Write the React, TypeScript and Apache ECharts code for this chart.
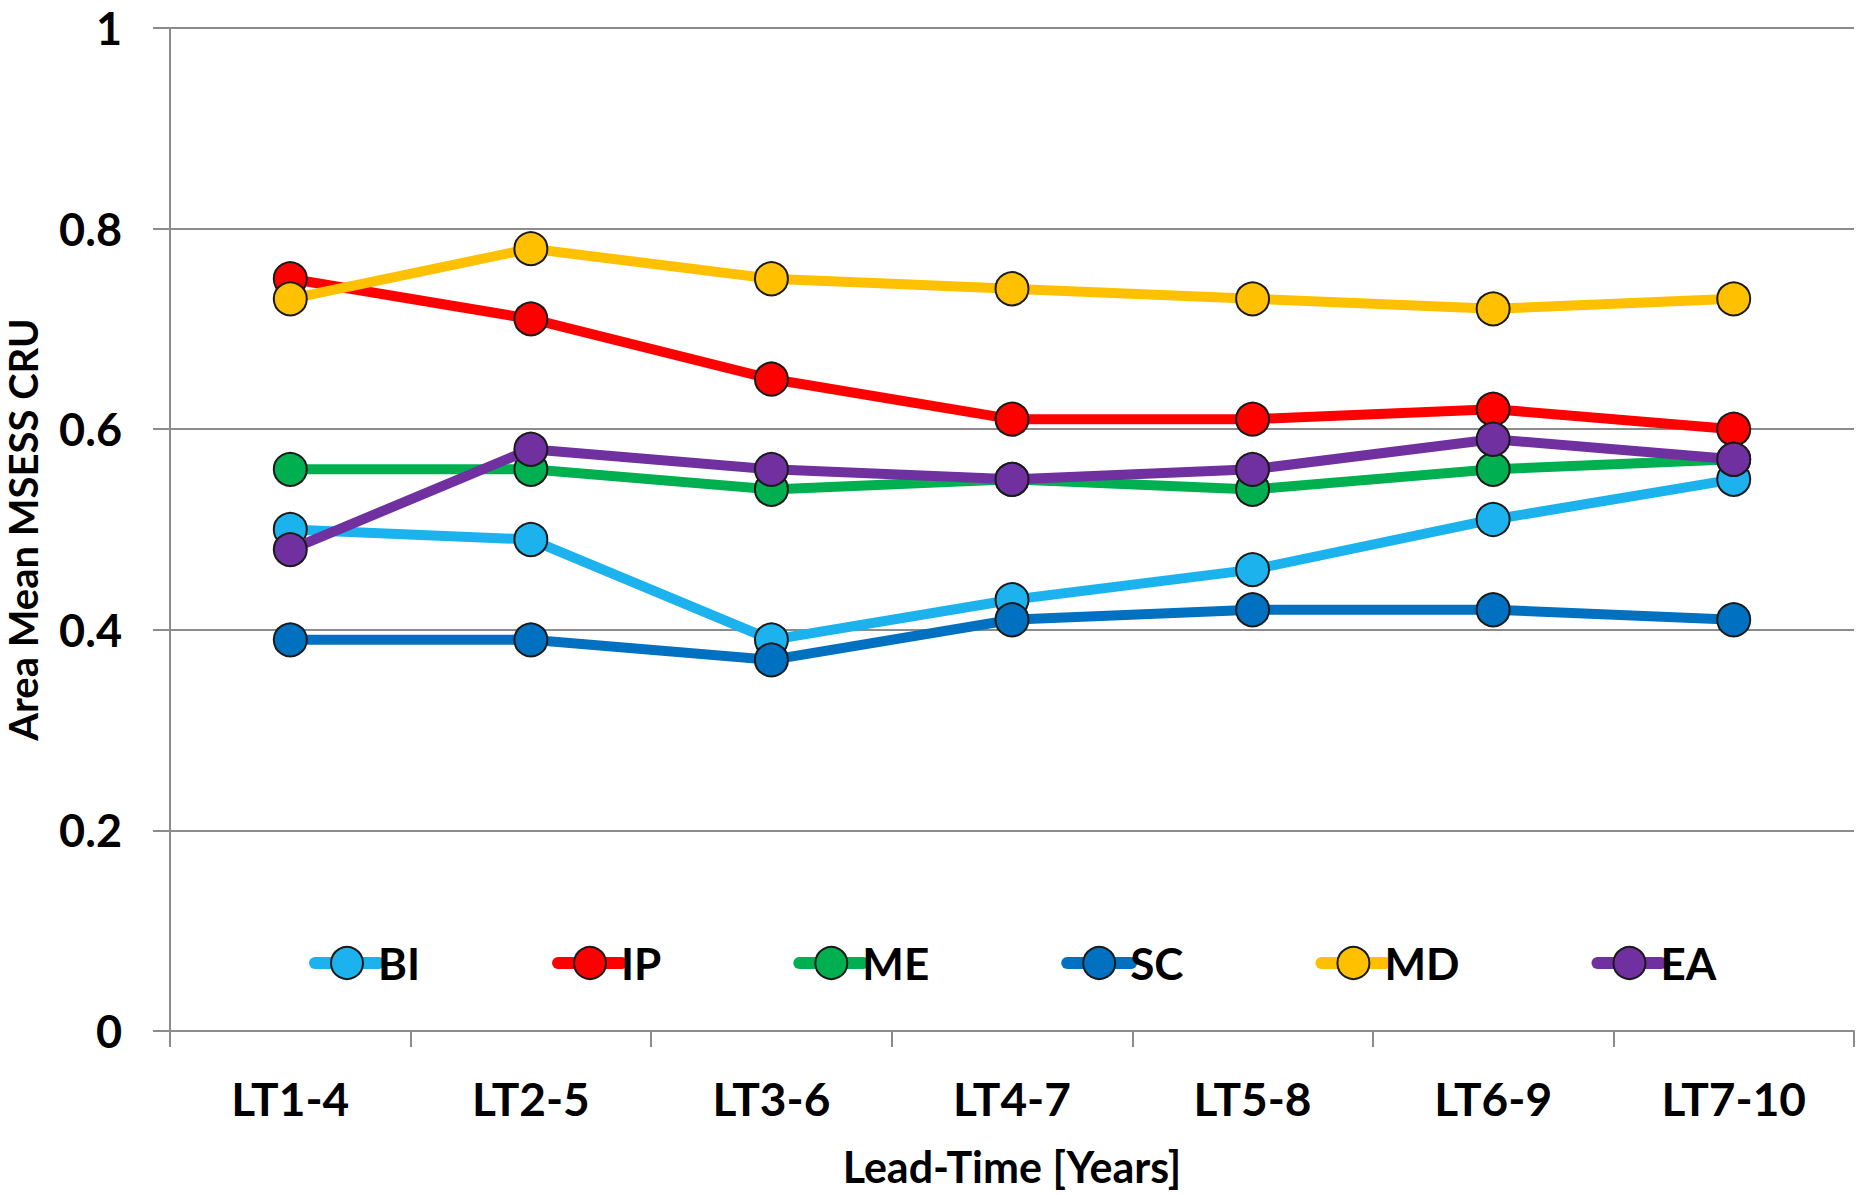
import React, { useEffect, useRef } from "react";
import * as echarts from "echarts";

const categories = ["LT1-4", "LT2-5", "LT3-6", "LT4-7", "LT5-8", "LT6-9", "LT7-10"];
const seriesNames = ["BI", "IP", "ME", "SC", "MD", "EA"];
const BI = [0.5, 0.49, 0.39, 0.43, 0.46, 0.51, 0.55];
const IP = [0.75, 0.71, 0.65, 0.61, 0.61, 0.62, 0.6];
const ME = [0.56, 0.56, 0.54, 0.55, 0.54, 0.56, 0.57];
const SC = [0.39, 0.39, 0.37, 0.41, 0.42, 0.42, 0.41];
const MD = [0.73, 0.78, 0.75, 0.74, 0.73, 0.72, 0.73];
const EA = [0.48, 0.58, 0.56, 0.55, 0.56, 0.59, 0.57];
const seriesData = [BI, IP, ME, SC, MD, EA];
const colors = ["#1CB2EE", "#FF0000", "#00B050", "#0070C0", "#FFC000", "#7030A0"];

const FONT = "Lato";

export default function App() {
  const ref = useRef<HTMLDivElement>(null);
  useEffect(() => {
    document.body.style.margin = "0";
    const chart = echarts.init(ref.current!, null, { renderer: "svg" });
    chart.setOption({
      animation: false,
      backgroundColor: "#ffffff",
      grid: { left: 170, right: 6, top: 28, bottom: 164, outerBoundsMode: "none", containLabel: false },
      legend: {
        left: 304,
        top: 936,
        itemWidth: 64,
        itemHeight: 40,
        itemGap: 132,
        lineStyle: { width: 12, cap: "round" },
        textStyle: { fontFamily: FONT, fontWeight: "bold", fontSize: 44, color: "#000", padding: [0, 0, 0, -6] },
        data: seriesNames,
      },
      xAxis: {
        type: "category",
        data: categories,
        boundaryGap: true,
        name: "Lead-Time [Years]",
        nameLocation: "middle",
        nameGap: 114,
        nameTextStyle: { fontFamily: FONT, fontWeight: "bold", fontSize: 43, color: "#000" },
        axisLine: { lineStyle: { color: "#8c8c8c", width: 2 } },
        axisTick: { show: true, length: 16, lineStyle: { color: "#8c8c8c", width: 2 } },
        axisLabel: { fontFamily: FONT, fontWeight: "bold", fontSize: 46, color: "#000", margin: 44 },
      },
      yAxis: {
        type: "value",
        min: 0,
        max: 1,
        interval: 0.2,
        name: "Area Mean MSESS CRU",
        nameLocation: "middle",
        nameGap: 127,
        nameTextStyle: { fontFamily: FONT, fontWeight: "bold", fontSize: 40, lineHeight: 40, color: "#000" },
        axisLine: { show: true, lineStyle: { color: "#8c8c8c", width: 2 } },
        axisTick: { show: true, length: 17, lineStyle: { color: "#8c8c8c", width: 2 } },
        splitLine: { show: true, lineStyle: { color: "#8c8c8c", width: 2 } },
        axisLabel: { fontFamily: FONT, fontWeight: "bold", fontSize: 45, lineHeight: 40, color: "#000", margin: 48 },
      },
      series: seriesNames.map((n, i) => ({
        name: n,
        type: "line",
        data: seriesData[i],
        symbol: "circle",
        symbolSize: 33,
        color: colors[i],
        lineStyle: { width: 10, color: colors[i] },
        itemStyle: { color: colors[i], borderColor: "#1a1a1a", borderWidth: 2 },
        z: 2 + i,
      })),
    });
    return () => chart.dispose();
  }, []);
  return <div ref={ref} style={{ width: 1860, height: 1195 }} />;
}
